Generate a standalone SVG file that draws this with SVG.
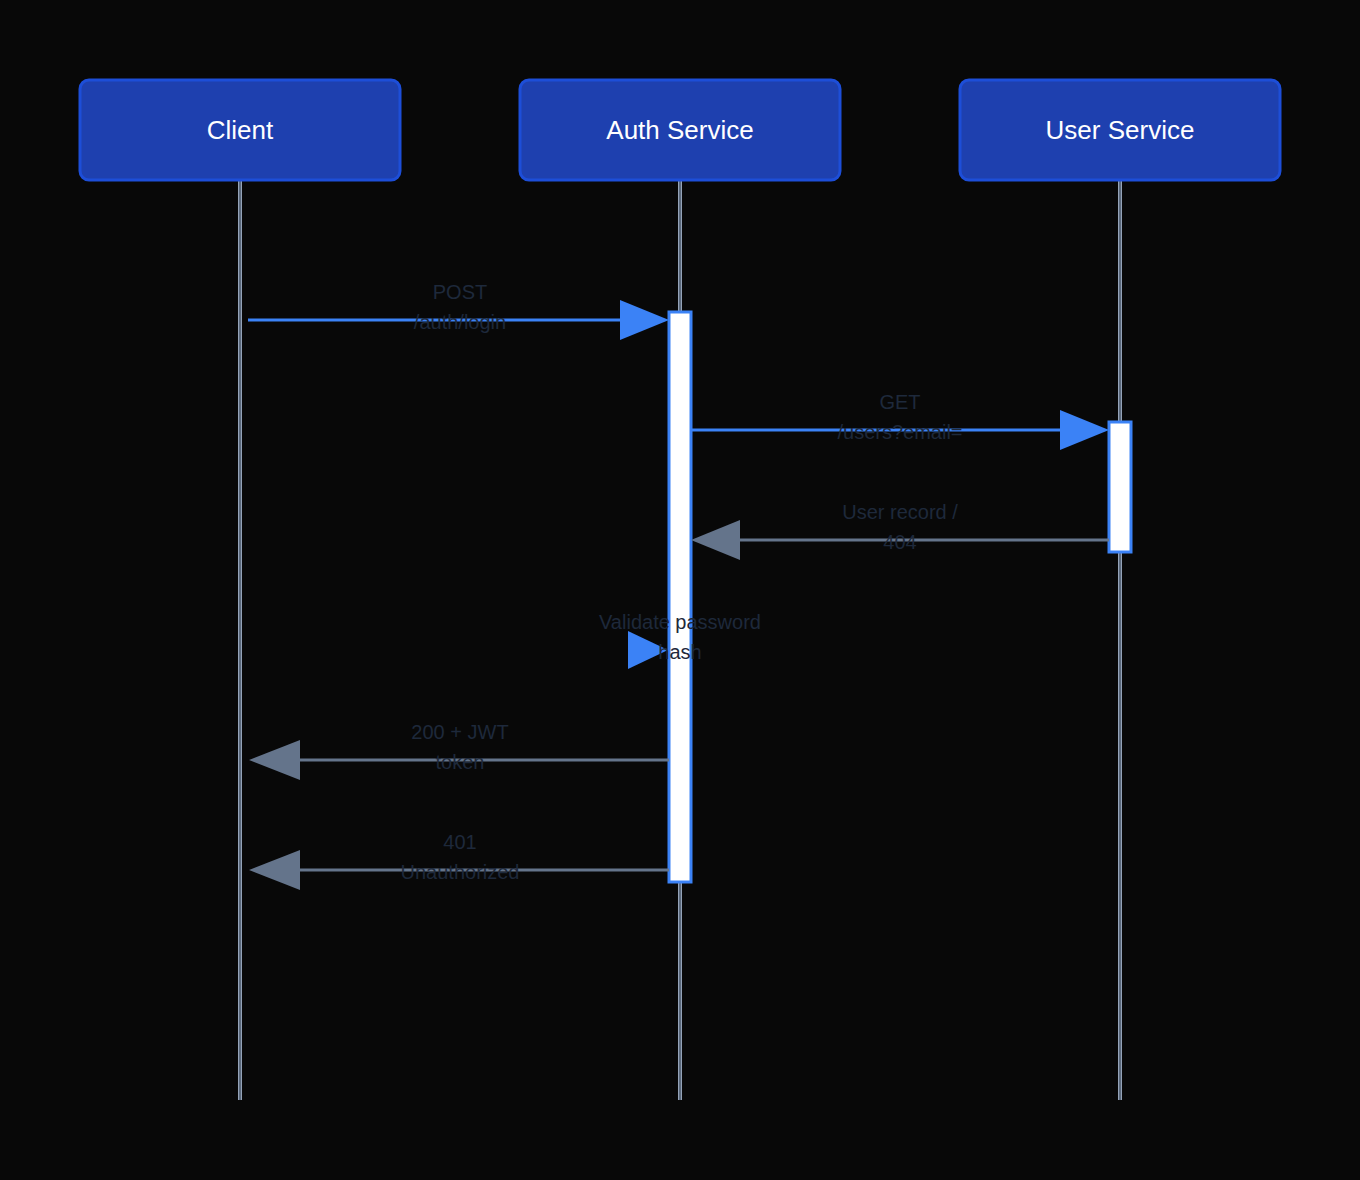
<svg xmlns="http://www.w3.org/2000/svg" width="1360" height="1180" viewBox="0 0 1360 1180">
<style>
.actor{fill:#1e40af;stroke:#1d4ed8;stroke-width:3}
.at{font-family:"Liberation Sans",Arial,sans-serif;font-size:26px;fill:#ffffff;text-anchor:middle}
.ll{stroke:#94a3b8;stroke-width:4}
.llc{stroke:#475569;stroke-width:1.5}
.act{fill:#ffffff;stroke:#3b82f6;stroke-width:3}
.req{stroke:#3b82f6;stroke-width:3;fill:none}
.ret{stroke:#64748b;stroke-width:3;fill:none}
.lbl{font-family:"Liberation Sans",Arial,sans-serif;font-size:20px;fill:#1e293b;text-anchor:middle}
</style>
<rect width="1360" height="1180" fill="#080808"/>
<g id="lifelines">
<line class="ll" x1="240" y1="180" x2="240" y2="1100"/><line class="llc" x1="240" y1="180" x2="240" y2="1100"/>
<line class="ll" x1="680" y1="180" x2="680" y2="1100"/><line class="llc" x1="680" y1="180" x2="680" y2="1100"/>
<line class="ll" x1="1120" y1="180" x2="1120" y2="1100"/><line class="llc" x1="1120" y1="180" x2="1120" y2="1100"/>
</g>
<g id="client"><rect class="actor" x="80" y="80" width="320" height="100" rx="9"/><text class="at" x="240" y="139">Client</text></g>
<g id="auth"><rect class="actor" x="520" y="80" width="320" height="100" rx="9"/><text class="at" x="680" y="139">Auth Service</text></g>
<g id="user"><rect class="actor" x="960" y="80" width="320" height="100" rx="9"/><text class="at" x="1120" y="139">User Service</text></g>
<g id="activations">
<rect class="act" x="669" y="312" width="22" height="570"/>
<rect class="act" x="1109" y="422" width="22" height="130"/>
</g>
<g id="connectors">
<line class="req" x1="248" y1="320" x2="622" y2="320"/><polygon points="620,300 669,320 620,340" fill="#3b82f6"/>
<line class="req" x1="691" y1="430" x2="1062" y2="430"/><polygon points="1060,410 1109,430 1060,450" fill="#3b82f6"/>
<line class="ret" x1="1109" y1="540" x2="738" y2="540"/><polygon points="740,520 691,540 740,560" fill="#64748b"/>
<polygon points="628,631 668,650 628,669" fill="#3b82f6"/>
<line class="ret" x1="669" y1="760" x2="298" y2="760"/><polygon points="300,740 249,760 300,780" fill="#64748b"/>
<line class="ret" x1="669" y1="870" x2="298" y2="870"/><polygon points="300,850 249,870 300,890" fill="#64748b"/>
</g>
<g id="labels">
<text class="lbl" x="460" y="299">POST</text><text class="lbl" x="460" y="329">/auth/login</text>
<text class="lbl" x="900" y="409">GET</text><text class="lbl" x="900" y="439">/users?email=</text>
<text class="lbl" x="900" y="519">User record /</text><text class="lbl" x="900" y="549">404</text>
<text class="lbl" x="680" y="629">Validate password</text><text class="lbl" x="680" y="659">hash</text>
<text class="lbl" x="460" y="739">200 + JWT</text><text class="lbl" x="460" y="769">token</text>
<text class="lbl" x="460" y="849">401</text><text class="lbl" x="460" y="879">Unauthorized</text>
</g>
</svg>
